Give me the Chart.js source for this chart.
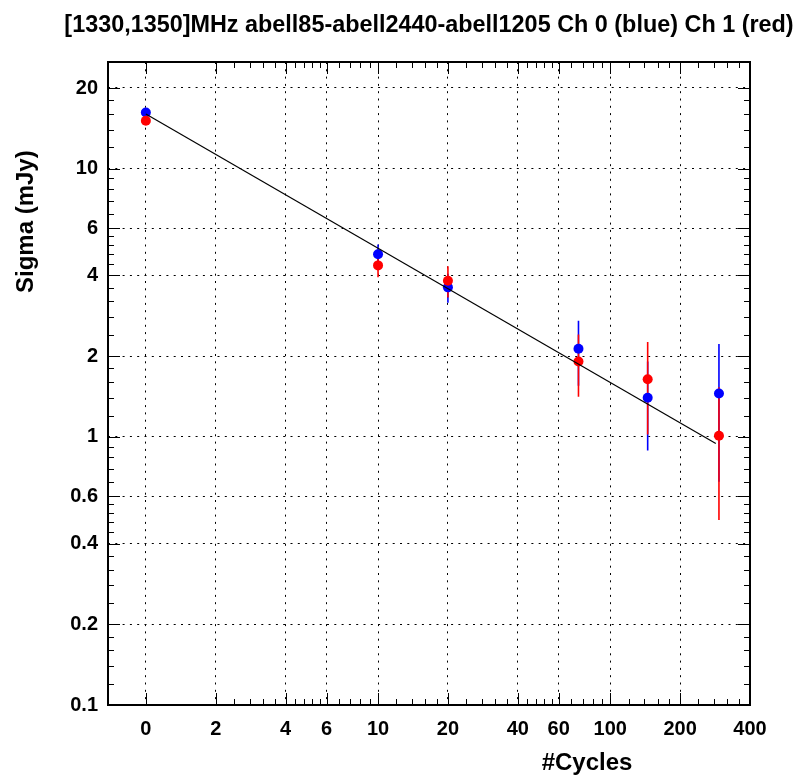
<!DOCTYPE html>
<html>
<head>
<meta charset="utf-8">
<script src="https://cdn.jsdelivr.net/npm/chart.js@4/dist/chart.umd.min.js"></script>
<style>
  html, body { margin: 0; padding: 0; background: #fff; }
  #wrap { width: 798px; height: 775px; }
</style>
</head>
<body>
<div id="wrap"><canvas id="c" width="798" height="775"></canvas></div>
<script>
// ---- data ----
const titleText = '[1330,1350]MHz abell85-abell2440-abell1205 Ch 0 (blue) Ch 1 (red)';
const xTitle = '#Cycles';
const yTitle = 'Sigma (mJy)';

// x positions of the measurements ("0" cycles is plotted at the position labelled 0)
const cycles = [1, 10, 20, 73, 145, 294];
const ch0Sigma = [16.2, 4.80, 3.61, 2.13, 1.40, 1.45];   // blue
const ch0Err   = [0, 0.42, 0.45, 0.58, 0.51, 0.77];
const ch1Sigma = [15.1, 4.36, 3.82, 1.91, 1.64, 1.01];   // red
const ch1Err   = [0, 0.42, 0.51, 0.50, 0.62, 0.52];

// fitted line end points
const fitX = [1, 285];
const fitY = [16.0, 0.945];

const xTickValues = [1, 2, 4, 6, 10, 20, 40, 60, 100, 200, 400];
const xTickLabels = ['0', '2', '4', '6', '10', '20', '40', '60', '100', '200', '400'];
const xMinorTicks = [2.4, 2.8, 3.2, 3.6, 4.4, 4.8, 5.2, 5.6, 6.8, 7.6, 8.4, 9.2,
  12, 14, 16, 18, 24, 28, 32, 36, 44, 48, 52, 56, 68, 76, 84, 92,
  120, 140, 160, 180, 240, 280, 320, 360];
const yTickValues = [0.1, 0.2, 0.4, 0.6, 1, 2, 4, 6, 10, 20];
const yTickLabels = ['0.1', '0.2', '0.4', '0.6', '1', '2', '4', '6', '10', '20'];
const yMinorTicks = [0.12, 0.14, 0.16, 0.18, 0.24, 0.28, 0.32, 0.36, 0.44, 0.48, 0.52, 0.56,
  0.68, 0.76, 0.84, 0.92, 1.2, 1.4, 1.6, 1.8, 2.4, 2.8, 3.2, 3.6, 4.4, 4.8, 5.2, 5.6,
  6.8, 7.6, 8.4, 9.2, 12, 14, 16, 18];
const xRange = [0.687, 400];
const yRange = [0.1, 25];

// ---- build datasets ----
const FONT = '"Liberation Sans", Arial, Helvetica, sans-serif';
function points(xs, ys) { return xs.map((x, i) => ({ x: x, y: ys[i] })); }
function errSegments(xs, vals, errs) {
  const pts = [];
  xs.forEach((x, i) => {
    if (errs[i] > 0) {
      pts.push({ x: x, y: vals[i] - errs[i] }, { x: x, y: vals[i] + errs[i] }, { x: x, y: null });
    }
  });
  return pts;
}

const framePlugin = {
  id: 'frameTicks',
  afterDatasetsDraw(chart) {
    const { ctx, chartArea: a, scales } = chart;
    const xs = scales.x, ys = scales.y;
    ctx.save();
    ctx.strokeStyle = '#000';
    ctx.lineWidth = 1;
    ctx.beginPath();
    const xt = (vals, len) => vals.forEach(v => {
      const p = Math.round(xs.getPixelForValue(v)) + 0.5;
      ctx.moveTo(p, a.bottom); ctx.lineTo(p, a.bottom - len);
      ctx.moveTo(p, a.top); ctx.lineTo(p, a.top + len);
    });
    const yt = (vals, len) => vals.forEach(v => {
      const p = Math.round(ys.getPixelForValue(v)) + 0.5;
      ctx.moveTo(a.left, p); ctx.lineTo(a.left + len, p);
      ctx.moveTo(a.right, p); ctx.lineTo(a.right - len, p);
    });
    xt(xTickValues, 12); xt(xMinorTicks, 6);
    yt(yTickValues, 12); yt(yMinorTicks, 6);
    ctx.stroke();
    ctx.lineWidth = 2;
    ctx.strokeRect(a.left, a.top, a.right - a.left, a.bottom - a.top);

    ctx.fillStyle = '#000';
    ctx.textBaseline = 'alphabetic';
    ctx.textAlign = 'center';
    ctx.font = 'bold 23.4px ' + FONT;
    ctx.fillText(titleText, (a.left + a.right) / 2, 32);
    ctx.font = 'bold 24px ' + FONT;
    ctx.fillText(xTitle, 587, 770);
    ctx.translate(33, 293);
    ctx.rotate(-Math.PI / 2);
    ctx.textAlign = 'left';
    ctx.fillText(yTitle, 0, 0);
    ctx.restore();
  }
};

const tickFont = { family: FONT, size: 20, weight: 'bold' };

new Chart(document.getElementById('c'), {
  type: 'scatter',
  data: {
    datasets: [
      { label: 'fit', data: points(fitX, fitY), showLine: true, borderColor: '#000', borderWidth: 1.2,
        pointRadius: 0, order: 0 },
      { label: 'Ch 1', data: points(cycles, ch1Sigma), backgroundColor: '#ff0000', borderWidth: 0,
        pointRadius: 5, order: 1 },
      { label: 'Ch 0', data: points(cycles, ch0Sigma), backgroundColor: '#0000ff', borderWidth: 0,
        pointRadius: 5, order: 2 },
      { label: 'Ch 1 err', data: errSegments(cycles, ch1Sigma, ch1Err), showLine: true, spanGaps: false,
        borderColor: '#ff0000', borderWidth: 1.6, pointRadius: 0, order: 3 },
      { label: 'Ch 0 err', data: errSegments(cycles, ch0Sigma, ch0Err), showLine: true, spanGaps: false,
        borderColor: '#0000ff', borderWidth: 1.6, pointRadius: 0, order: 4 }
    ]
  },
  options: {
    responsive: false,
    animation: false,
    devicePixelRatio: 1,
    layout: { padding: { left: 0, right: 48, top: 62, bottom: 0 } },
    plugins: {
      legend: { display: false },
      tooltip: { enabled: false },
      title: { display: false }
    },
    scales: {
      x: {
        type: 'logarithmic', min: xRange[0], max: xRange[1],
        afterBuildTicks: s => { s.ticks = xTickValues.map(v => ({ value: v })); },
        afterFit: s => { s.height = 70; },
        ticks: { autoSkip: false, maxRotation: 0, minRotation: 0, padding: 12, color: '#000', font: tickFont,
          callback: (v, i) => xTickLabels[i] },
        grid: { color: '#000', lineWidth: 1, drawTicks: false },
        border: { display: false, dash: [2, 5.3] }
      },
      y: {
        type: 'logarithmic', min: yRange[0], max: yRange[1],
        afterBuildTicks: s => { s.ticks = yTickValues.map(v => ({ value: v })); },
        afterFit: s => { s.width = 108; },
        ticks: { autoSkip: false, padding: 10, color: '#000', font: tickFont,
          callback: (v, i) => yTickLabels[i] },
        grid: { color: '#000', lineWidth: 1, drawTicks: false },
        border: { display: false, dash: [2, 5.3] }
      }
    }
  },
  plugins: [framePlugin]
});
</script>
</body>
</html>
